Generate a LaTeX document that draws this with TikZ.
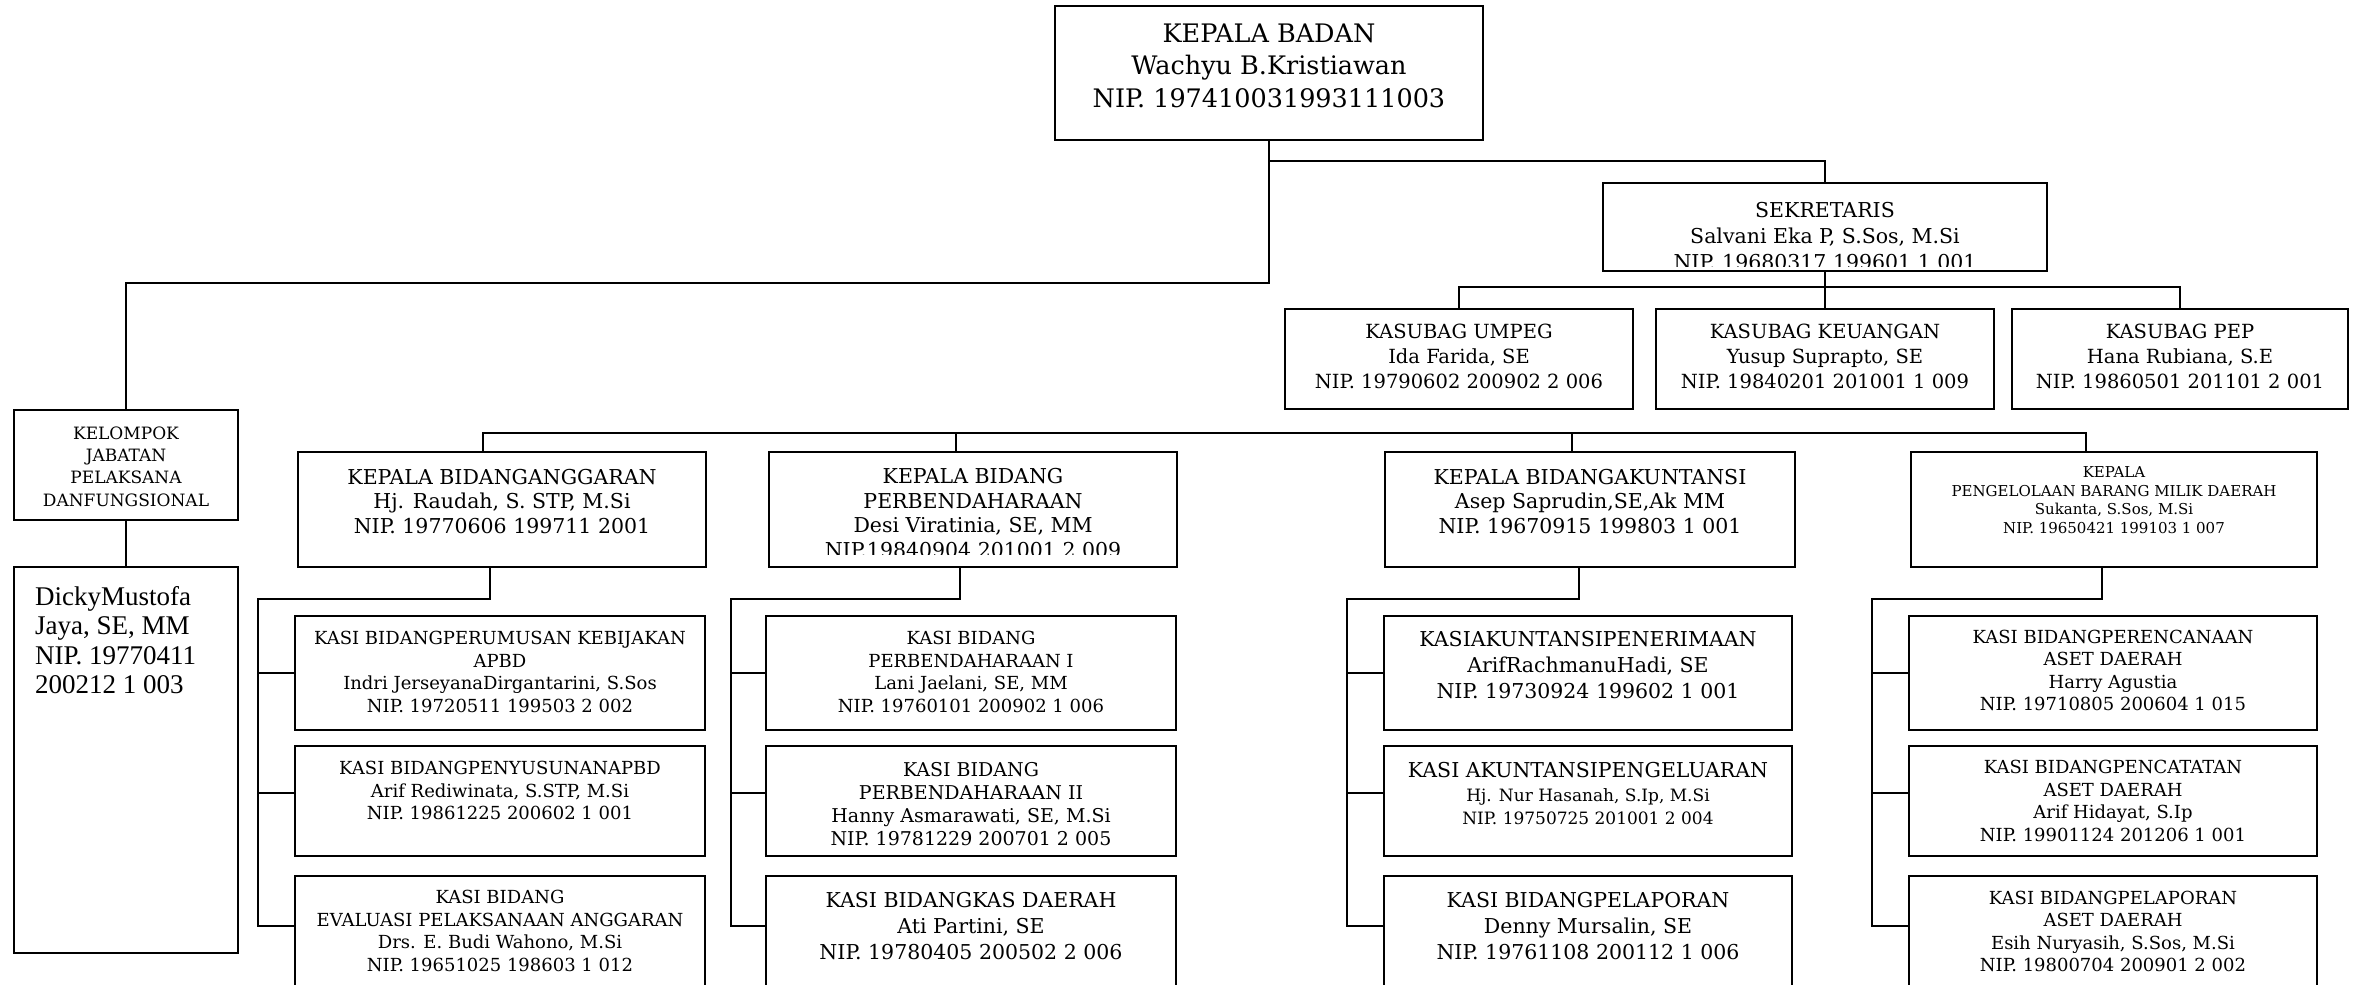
\documentclass[tikz,border=0pt]{standalone}
\usepackage{fontspec}
\setmainfont{DejaVu Serif}
\newfontfamily\tnr{Liberation Serif}
\usetikzlibrary{calc}
\begin{document}
\begin{tikzpicture}[x=1pt,y=-1pt,
  box/.style={draw,line width=2pt,inner sep=0pt},
  wire/.style={line width=2pt},
  txt/.style={align=center,inner sep=0pt},
  fA/.style={font=\fontsize{25.5}{32.5}\selectfont},
  fB/.style={font=\fontsize{20.5}{26}\selectfont},
  fC/.style={font=\fontsize{19.5}{25}\selectfont},
  fD/.style={font=\fontsize{20.5}{24.5}\selectfont},
  fE/.style={font=\fontsize{18}{22.6}\selectfont},
  fF/.style={font=\fontsize{15}{18.5}\selectfont}]
\clip (0,0) rectangle (2361,985);
\fill[white] (0,0) rectangle (2361,985);

% ---------- top ----------
\node[box,minimum width=428pt,minimum height=134pt] (kepala) at (1269,73) {};
\node[txt,fA] (t-kepala) at (1269,65.5) {KEPALA BADAN\\Wachyu B.Kristiawan\\NIP. 197410031993111003};

\begin{scope}
\clip (1603,183) rectangle (2047,266);
\node[txt,fB] (t-sek) at (1825,236) {SEKRETARIS\\Salvani Eka P, S.Sos, M.Si\\NIP. 19680317 199601 1 001};
\end{scope}
\node[box,minimum width=444pt,minimum height=88pt] (sek) at (1825,227) {};

% ---------- kasubag ----------
\node[box,minimum width=348pt,minimum height=100pt] (umpeg) at (1459,359) {};
\node[box,minimum width=338pt,minimum height=100pt] (keu) at (1825,359) {};
\node[box,minimum width=336pt,minimum height=100pt] (pep) at (2180,359) {};
\node[txt,fC] (t-umpeg) at (1459,356) {KASUBAG UMPEG\\Ida Farida, SE\\NIP. 19790602 200902 2 006};
\node[txt,fC] (t-keu) at (1825,356) {KASUBAG KEUANGAN\\Yusup Suprapto, SE\\NIP. 19840201 201001 1 009};
\node[txt,fC] (t-pep) at (2180,356) {KASUBAG PEP\\Hana Rubiana, S.E\\NIP. 19860501 201101 2 001};

% ---------- kelompok ----------
\node[box,minimum width=224pt,minimum height=110pt] (kel) at (126,465) {};
\node[txt,font=\fontsize{17}{22.3}\selectfont] (t-kel) at (126,466.5) {KELOMPOK\\JABATAN\\PELAKSANA\\DANFUNGSIONAL};
\node[box,minimum width=224pt,minimum height=386pt] (dicky) at (126,760) {};
\node[anchor=north west,inner sep=0pt,align=left,font=\tnr\fontsize{27}{29.5}\selectfont] (t-dicky) at (35,586) {DickyMustofa\\Jaya, SE, MM\\NIP. 19770411\\200212 1 003};

% ---------- kepala bidang ----------
\node[box,minimum width=408pt,minimum height=115pt] (kb1) at (502,509.5) {};
\node[txt,fD] (t-kb1) at (502,501.5) {KEPALA BIDANGANGGARAN\\Hj. Raudah, S. STP, M.Si\\NIP. 19770606 199711 2001};
\begin{scope}
\clip (769,452) rectangle (1177,554);
\node[txt,fD] (t-kb2) at (973,513) {KEPALA BIDANG\\PERBENDAHARAAN\\Desi Viratinia, SE, MM\\NIP.19840904 201001 2 009};
\end{scope}
\node[box,minimum width=408pt,minimum height=115pt] (kb2) at (973,509.5) {};
\node[box,minimum width=410pt,minimum height=115pt] (kb3) at (1590,509.5) {};
\node[txt,fD] (t-kb3) at (1590,501.5) {KEPALA BIDANGAKUNTANSI\\Asep Saprudin,SE,Ak MM\\NIP. 19670915 199803 1 001};
\node[box,minimum width=406pt,minimum height=115pt] (kb4) at (2114,509.5) {};
\node[txt,fF] (t-kb4) at (2114,500) {KEPALA\\PENGELOLAAN BARANG MILIK DAERAH\\Sukanta, S.Sos, M.Si\\NIP. 19650421 199103 1 007};

% ---------- kasi boxes ----------
\node[box,minimum width=410pt,minimum height=114pt] (k11) at (500,673) {};
\node[box,minimum width=410pt,minimum height=110pt] (k12) at (500,801) {};
\node[box,minimum width=410pt,minimum height=124pt] (k13) at (500,938) {};
\node[box,minimum width=410pt,minimum height=114pt] (k21) at (971,673) {};
\node[box,minimum width=410pt,minimum height=110pt] (k22) at (971,801) {};
\node[box,minimum width=410pt,minimum height=124pt] (k23) at (971,938) {};
\node[box,minimum width=408pt,minimum height=114pt] (k31) at (1588,673) {};
\node[box,minimum width=408pt,minimum height=110pt] (k32) at (1588,801) {};
\node[box,minimum width=408pt,minimum height=124pt] (k33) at (1588,938) {};
\node[box,minimum width=408pt,minimum height=114pt] (k41) at (2113,673) {};
\node[box,minimum width=408pt,minimum height=110pt] (k42) at (2113,801) {};
\node[box,minimum width=408pt,minimum height=124pt] (k43) at (2113,938) {};

\node[txt,fE] (t-k11) at (500,672) {KASI BIDANGPERUMUSAN KEBIJAKAN\\APBD\\Indri JerseyanaDirgantarini, S.Sos\\NIP. 19720511 199503 2 002};
\node[txt,fE] (t-k12) at (500,790.5) {KASI BIDANGPENYUSUNANAPBD\\Arif Rediwinata, S.STP, M.Si\\NIP. 19861225 200602 1 001};
\node[txt,fE] (t-k13) at (500,931) {KASI BIDANG\\EVALUASI PELAKSANAAN ANGGARAN\\Drs. E. Budi Wahono, M.Si\\NIP. 19651025 198603 1 012};
\node[txt,fE] (t-k21) at (971,672) {KASI BIDANG\\PERBENDAHARAAN I\\Lani Jaelani, SE, MM\\NIP. 19760101 200902 1 006};
\node[txt,font=\fontsize{19}{23}\selectfont] (t-k22) at (971,804.5) {KASI BIDANG\\PERBENDAHARAAN II\\Hanny Asmarawati, SE, M.Si\\NIP. 19781229 200701 2 005};
\node[txt,fB] (t-k23) at (971,926) {KASI BIDANGKAS DAERAH\\Ati Partini, SE\\NIP. 19780405 200502 2 006};
\node[txt,fB] (t-k31) at (1588,665) {KASIAKUNTANSIPENERIMAAN\\ArifRachmanuHadi, SE\\NIP. 19730924 199602 1 001};
\node[txt,font=\fontsize{17}{23.5}\selectfont] (t-k32) at (1588,794) {{\fontsize{20.5}{23.5}\selectfont KASI AKUNTANSIPENGELUARAN}\\Hj. Nur Hasanah, S.Ip, M.Si\\NIP. 19750725 201001 2 004};
\node[txt,fB] (t-k33) at (1588,926) {KASI BIDANGPELAPORAN\\Denny Mursalin, SE\\NIP. 19761108 200112 1 006};
\node[txt,fE] (t-k41) at (2113,670.5) {KASI BIDANGPERENCANAAN\\ASET DAERAH\\Harry Agustia\\NIP. 19710805 200604 1 015};
\node[txt,fE] (t-k42) at (2113,801) {KASI BIDANGPENCATATAN\\ASET DAERAH\\Arif Hidayat, S.Ip\\NIP. 19901124 201206 1 001};
\node[txt,fE] (t-k43) at (2113,931.5) {KASI BIDANGPELAPORAN\\ASET DAERAH\\Esih Nuryasih, S.Sos, M.Si\\NIP. 19800704 200901 2 002};

% ---------- connectors ----------
\draw[wire] (kepala.south) -- ++(0,20) -| (sek.north);
\draw[wire] (kepala.south) -- ++(0,142) -| (kel.north);
\draw[wire] (kel.south) -- (dicky.north);
\draw[wire] (sek.south) -- (keu.north);
\draw[wire] (umpeg.north) -- ++(0,-21) -| (pep.north);

\draw[wire] ([xshift=-19pt]kb1.north) -- ++(0,-18) -| ([xshift=-28pt]kb4.north);
\draw[wire] ([xshift=-17pt]kb2.north) -- ++(0,-18);
\draw[wire] ([xshift=-18pt]kb3.north) -- ++(0,-18);

% column 1
\draw[wire] ([xshift=-12pt]kb1.south) -- ++(0,31) -| ([xshift=-36pt,yshift=12pt]k13.west) -- ([yshift=12pt]k13.west);
\draw[wire] ([xshift=-36pt]k11.west) -- (k11.west);
\draw[wire] ([xshift=-36pt,yshift=8pt]k12.west) -- ([yshift=8pt]k12.west);
% column 2
\draw[wire] ([xshift=-13pt]kb2.south) -- ++(0,31) -| ([xshift=-34pt,yshift=12pt]k23.west) -- ([yshift=12pt]k23.west);
\draw[wire] ([xshift=-34pt]k21.west) -- (k21.west);
\draw[wire] ([xshift=-34pt,yshift=8pt]k22.west) -- ([yshift=8pt]k22.west);
% column 3
\draw[wire] ([xshift=-11pt]kb3.south) -- ++(0,31) -| ([xshift=-36pt,yshift=12pt]k33.west) -- ([yshift=12pt]k33.west);
\draw[wire] ([xshift=-36pt]k31.west) -- (k31.west);
\draw[wire] ([xshift=-36pt,yshift=8pt]k32.west) -- ([yshift=8pt]k32.west);
% column 4
\draw[wire] ([xshift=-12pt]kb4.south) -- ++(0,31) -| ([xshift=-36pt,yshift=12pt]k43.west) -- ([yshift=12pt]k43.west);
\draw[wire] ([xshift=-36pt]k41.west) -- (k41.west);
\draw[wire] ([xshift=-36pt,yshift=8pt]k42.west) -- ([yshift=8pt]k42.west);
\end{tikzpicture}
\end{document}
